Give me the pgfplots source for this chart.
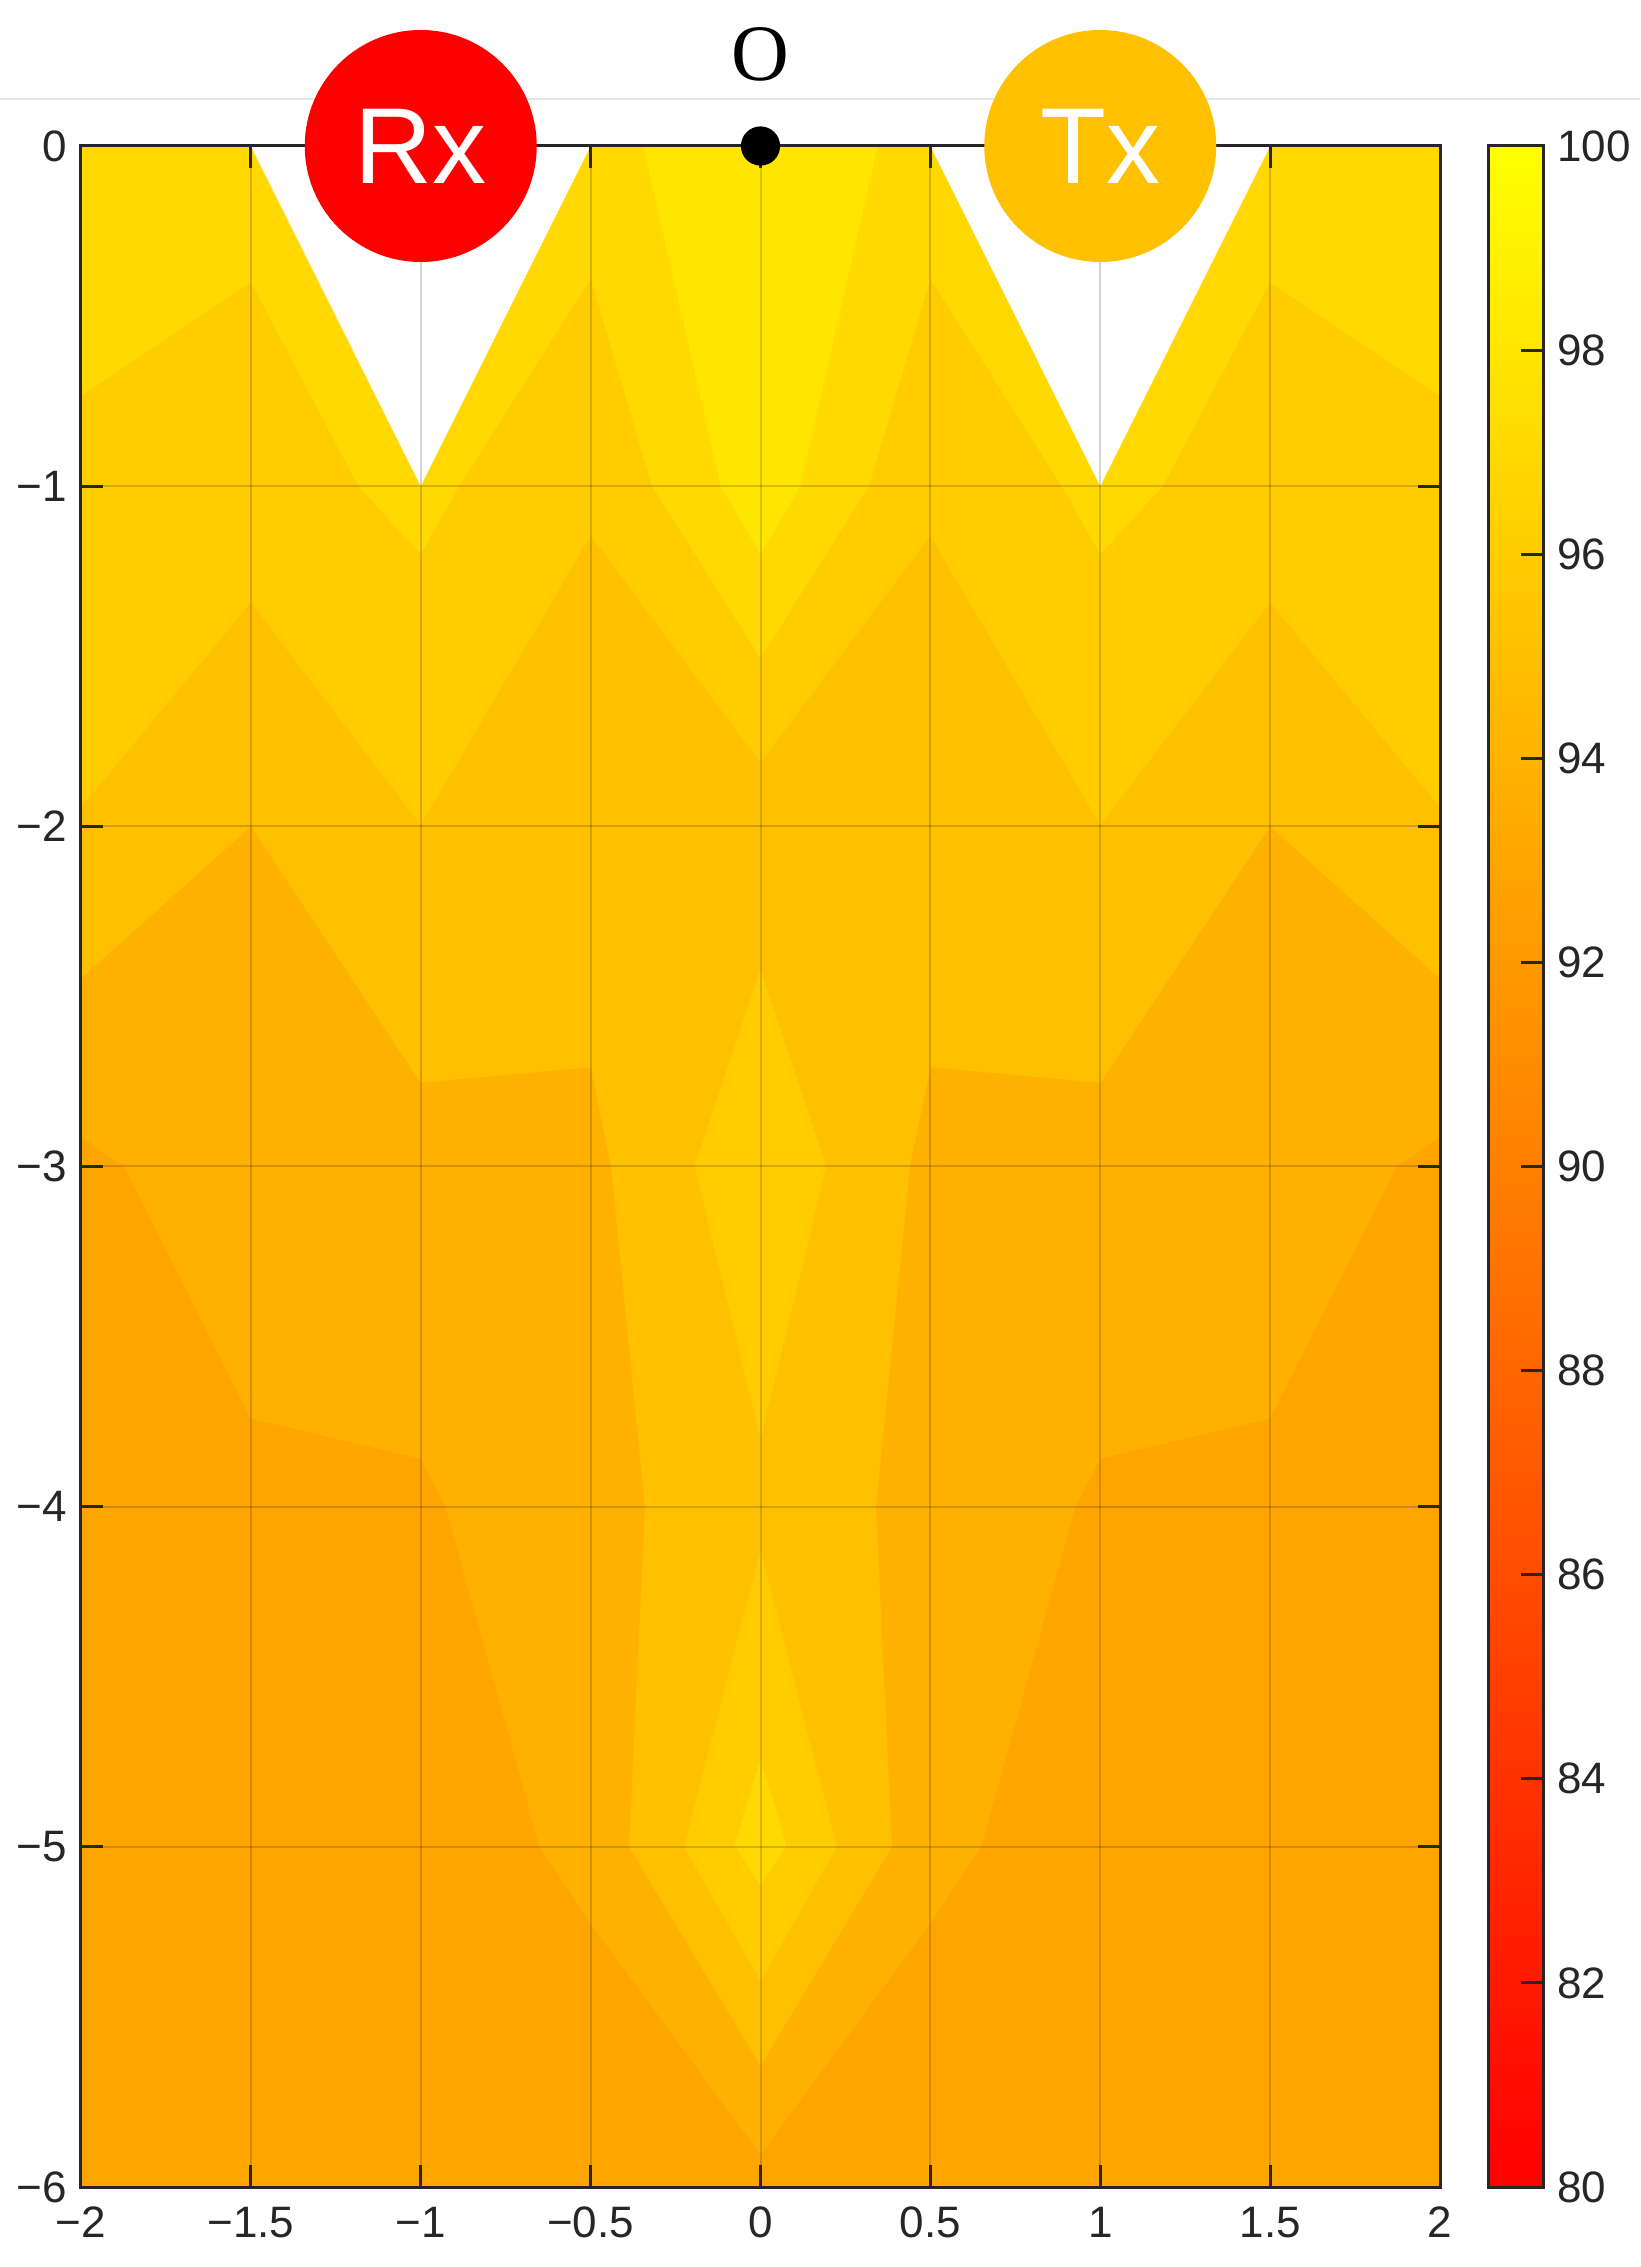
\documentclass[border=0pt]{standalone}
\usepackage{pgfplots}
\pgfplotsset{compat=1.18}
\usepackage{fontspec}
\setmainfont{Liberation Sans}
\newfontfamily\seriffont{Liberation Serif}
\definecolor{b93}{RGB}{255,165,0}
\definecolor{b94}{RGB}{255,177,0}
\definecolor{b95}{RGB}{255,192,0}
\definecolor{b96}{RGB}{255,204,0}
\definecolor{b97}{RGB}{255,217,0}
\definecolor{b98}{RGB}{255,230,0}
\definecolor{txcol}{RGB}{255,192,0}
\definecolor{axcol}{RGB}{38,38,38}
\begin{document}
\begin{tikzpicture}
\useasboundingbox (-20.25pt,-20pt) rectangle (389.75pt,546.75pt);
\draw[black!10, line width=0.4pt] (-20.25pt,522pt) -- (389.75pt,522pt);
\begin{axis}[
  at={(0pt,0pt)}, anchor=south west,
  scale only axis, width=339.75pt, height=510.25pt,
  xmin=-2, xmax=2, ymin=-6, ymax=0,
  xtick={-2,-1.5,-1,-0.5,0,0.5,1,1.5,2},
  xticklabels={−2,−1.5,−1,−0.5,0,0.5,1,1.5,2},
  ytick={-6,-5,-4,-3,-2,-1,0},
  yticklabels={−6,−5,−4,−3,−2,−1,0},
  /pgf/number format/assume math mode=true,
  tick align=inside, major tick length=5.5pt,
  grid=major, major grid style={black, opacity=0.17, line width=0.5pt},
  axis on top,
  axis line style={draw=axcol, line width=0.75pt},
  every tick/.style={axcol, line width=0.75pt},
  tick label style={font=\fontsize{11}{13}\selectfont, text=axcol},
  xticklabel style={yshift=-1.5pt},
  colormap={autumn}{rgb255=(255,0,0) rgb255=(255,255,0)},
  point meta min=80, point meta max=100,
  colorbar,
  colorbar style={
    at={(parent axis.north east)}, anchor=north west, xshift=3.5pt,
    scale only axis, width=13.75pt, height=510.25pt,
    ytick={80,82,84,86,88,90,92,94,96,98,100},
    yticklabels={80,82,84,86,88,90,92,94,96,98,100},
    /pgf/number format/assume math mode=true,
    ytick pos=right, yticklabel pos=right,
    tick align=inside, major tick length=5.5pt,
    axis line style={draw=axcol, line width=0.75pt},
    every tick/.style={axcol, line width=0.75pt},
    tick label style={font=\fontsize{11}{13}\selectfont, text=axcol},
  },
]
% band 93 base
\addplot[draw=none, fill=b93, forget plot] coordinates {(-2,0) (2,0) (2,-6) (-2,-6)} -- cycle;
% >= 94
\addplot[draw=none, fill=b94, forget plot] coordinates {
 (-2,0) (-2,-2.911) (-1.872,-3.0) (-1.5,-3.741) (-1,-3.859) (-0.927,-4.0)
 (-0.65,-5.0) (-0.5,-5.225) (0,-5.905) (0.5,-5.225) (0.65,-5.0) (0.927,-4.0)
 (1,-3.859) (1.5,-3.741) (1.872,-3.0) (2,-2.911) (2,0)} -- cycle;
% >= 95
\addplot[draw=none, fill=b95, forget plot] coordinates {
 (-2,0) (-2,-2.447) (-1.5,-2.0) (-1,-2.754) (-0.5,-2.708) (-0.44,-3.0)
 (-0.34,-4.0) (-0.387,-5.0) (0,-5.643) (0.387,-5.0) (0.34,-4.0) (0.44,-3.0)
 (0.5,-2.708) (1,-2.754) (1.5,-2.0) (2,-2.447) (2,0)} -- cycle;
% >= 96
\addplot[draw=none, fill=b96, forget plot] coordinates {
 (-2,0) (-2,-1.944) (-1.5,-1.342) (-1,-1.996) (-0.5,-1.146) (0,-1.813)
 (0.5,-1.146) (1,-1.996) (1.5,-1.342) (2,-1.944) (2,0)} -- cycle;
\addplot[draw=none, fill=b96, forget plot] coordinates {
 (0,-2.42) (-0.194,-3.0) (0,-3.80) (0.194,-3.0)} -- cycle;
\addplot[draw=none, fill=b96, forget plot] coordinates {
 (0,-4.127) (-0.225,-5.0) (0,-5.395) (0.225,-5.0)} -- cycle;
% >= 97
\addplot[draw=none, fill=b97, forget plot] coordinates {
 (-2,0) (-2,-0.735) (-1.5,-0.40) (-1.184,-1.0) (-1,-1.2) (-0.887,-1.0)
 (-0.5,-0.39) (-0.319,-1.0) (0,-1.506) (0.319,-1.0) (0.5,-0.39)
 (0.887,-1.0) (1,-1.2) (1.184,-1.0) (1.5,-0.40) (2,-0.735) (2,0)} -- cycle;
\addplot[draw=none, fill=b97, forget plot] coordinates {
 (0,-4.741) (-0.076,-4.996) (0,-5.114) (0.076,-4.996)} -- cycle;
% >= 98
\addplot[draw=none, fill=b98, forget plot] coordinates {
 (-0.345,0) (-0.117,-1.0) (0,-1.2) (0.117,-1.0) (0.345,0)} -- cycle;
% empty V regions
\addplot[draw=none, fill=white, forget plot] coordinates {(-1.5,0) (-1,-1) (-0.5,0)} -- cycle;
\addplot[draw=none, fill=white, forget plot] coordinates {(0.5,0) (1,-1) (1.5,0)} -- cycle;
\coordinate (rx) at (axis cs:-1,0);
\coordinate (tx) at (axis cs:1,0);
\coordinate (o) at (axis cs:0,0);
\end{axis}
\fill[red] (rx) circle (29pt);
\node[text=white, font=\fontsize{27}{30}\selectfont, inner sep=0pt] at (rx) {Rx};
\fill[txcol] (tx) circle (29pt);
\node[text=white, font=\fontsize{27}{30}\selectfont, inner sep=0pt] at (tx) {Tx};
\fill[black] (o) circle (4.9pt);
\node[font=\seriffont\fontsize{20}{24}\selectfont, inner sep=0pt, yshift=23pt] at (o) {O};
\end{tikzpicture}
\end{document}
